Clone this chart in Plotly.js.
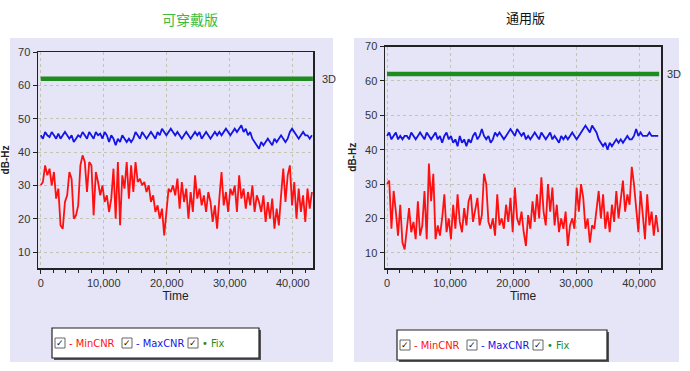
<!DOCTYPE html>
<html>
<head>
<meta charset="utf-8">
<script src="https://cdn.plot.ly/plotly-3.0.1.min.js"></script>
<style>html,body{margin:0;padding:0;background:#fff;}#chart{width:690px;height:371px;}</style>
</head>
<body>
<div id="chart"></div>
<script>
// ---------- DATA ----------
const panelTitles = ["可穿戴版", "通用版"];
const seriesNames = ["MinCNR", "MaxCNR", "Fix"];
const fixLabel = "3D";
const sampleStep = 350; // seconds between samples

const wearMin = [30,31,36,33,35,30,34,26,29,18,17,25,27,34,32,20,21,24,36,39,
  37,28,37,36,21,34,31,27,30,25,27,22,26,35,20,37,18,33,29,37,
  26,36,28,37,31,32,30,31,28,30,25,27,22,24,20,23,15,22,29,28,
  30,27,32,23,31,25,29,20,28,22,33,26,29,24,27,22,28,25,19,24,
  17,26,34,24,28,22,29,27,30,22,33,26,29,23,28,24,30,22,27,25,
  22,27,19,25,20,26,17,23,18,27,35,25,33,36,24,31,20,29,22,27,
  19,29,23,28];
const wearMax = [45,44,46,45,44.5,46,45,44,45.5,44,45,
  46,45,44,45,43,44,45,44.5,46,45,
  44,46,45,44,46,45,45.5,44,46,45,
  43,45,44,42,44,43,45,44,43,44,
  43,44,46,45,44,46,45,44,45,46,
  45,44,46,45,47,46,45,46,47,46,
  45,46,45,44,45,46,45,44,45,46,
  45,46,44,45,46,45,44,45,46,45,
  46,45,46,47,46,45,46,47,46,47,
  48,46,47,45,46,44,43,42,41,43,
  42,43,44,43,42,44,43,44,45,44,
  43,44,46,47,46,45,44,45,46,45,
  45,44,45];
const genMin = [30,31,17,28,22,15,24,13,11,17,23,16,19,14,25,15,18,28,14,36,
  25,33,14,18,15,20,27,16,20,14,24,17,27,19,16,23,18,25,27,19,
  22,26,18,21,33,30,19,17,20,15,27,18,20,17,24,19,26,16,29,20,
  18,22,16,12,21,17,25,19,27,20,32,22,18,30,22,29,18,24,16,20,
  17,22,12,18,20,17,29,22,30,26,17,20,13,18,17,22,28,20,27,17,
  22,16,24,19,28,20,25,31,22,27,24,35,30,24,16,28,22,14,27,18,
  22,15,21,16];
const genMax = [44,45,43,44,45,43,44,43,44,44,43,
  45,44,43,44,45,44,43,45,44,43,
  44,45,43,44,42,44,45,43,44,42,
  43,41,44,42,43,41,43,42,44,45,
  43,44,46,44,43,44,42,43,45,44,
  45,44,43,44,45,46,45,44,46,45,
  44,45,43,44,43,44,45,44,43,45,
  44,43,44,45,43,44,43,42,44,43,
  44,43,44,45,44,43,44,45,46,47,
  46,45,47,46,45,43,42,41,42,40,
  42,41,42,43,42,43,42,43,44,43,
  43,44,46,44,45,44,44,44,45,44,
  44,44,44];
const fixTime = [0, 43200];
const fixLevel = [62, 62];
const yTickVals = [10,20,30,40,50,60,70];
const xTickVals = [0,10000,20000,30000,40000];

// ---------- STYLE / LAYOUT ----------
const W = 690, H = 371;
const px = v => v / W;
const py = v => 1 - v / H;
const RED = "#ff1010", BLUE = "#1414e6", GREEN = "#1e8c1e";
const LAV = "#e5e5f7";
const FONT = "Liberation Sans, Arial, sans-serif";
const LFONT = "Liberation Sans Narrow, DejaVu Sans Condensed, Liberation Sans, sans-serif";
const tfont = {family: FONT, size: 11, color: "#333"};

const timesOf = arr => arr.map((_, i) => i * sampleStep);

const traces = [];
function addPanel(minArr, maxArr, xa, ya) {
  traces.push({x: timesOf(minArr), y: minArr, xaxis: xa, yaxis: ya, type: "scatter", mode: "lines",
    line: {color: RED, width: 1.8}, name: seriesNames[0], showlegend: false});
  traces.push({x: timesOf(maxArr), y: maxArr, xaxis: xa, yaxis: ya, type: "scatter", mode: "lines",
    line: {color: BLUE, width: 1.8}, name: seriesNames[1], showlegend: false});
  traces.push({x: fixTime, y: fixLevel, xaxis: xa, yaxis: ya, type: "scatter", mode: "lines",
    line: {color: GREEN, width: 4.5}, name: seriesNames[2], showlegend: false});
}
addPanel(wearMin, wearMax, "x", "y");
addPanel(genMin, genMax, "x2", "y2");

function xAxis(domain, range, anchor) {
  return {domain, range, anchor, tickvals: xTickVals, tickformat: ",", ticks: "outside", ticklen: 4,
    tickcolor: "#222", tickfont: tfont, showline: true, linecolor: "#222", linewidth: 1.5, mirror: true,
    showgrid: true, gridcolor: "#c4c4b4", griddash: "dot", gridwidth: 1, zeroline: false,
    minor: {dtick: 2000, tick0: 0, ticks: "outside", ticklen: 3, tickcolor: "#222", showgrid: false},
    title: {text: "Time", font: {family: FONT, size: 12, color: "#222"}, standoff: 4}};
}
function yAxis(domain, range, anchor) {
  return {domain, range, anchor, tickvals: yTickVals, ticks: "outside", ticklen: 4, tickcolor: "#222",
    tickfont: tfont, showline: true, linecolor: "#222", linewidth: 1.5, mirror: true,
    showgrid: true, gridcolor: "#c4c4b4", griddash: "dot", gridwidth: 1, zeroline: false,
    title: {text: "<b>dB-Hz</b>", font: {family: FONT, size: 10, color: "#222"}, standoff: 6}};
}

const shapes = [
  {type: "rect", xref: "paper", yref: "paper", x0: px(10), x1: px(333), y0: py(362), y1: py(38),
    fillcolor: LAV, line: {width: 0}, layer: "below"},
  {type: "rect", xref: "paper", yref: "paper", x0: px(354), x1: px(679), y0: py(362), y1: py(38),
    fillcolor: LAV, line: {width: 0}, layer: "below"}
];
const annotations = [
  {text: panelTitles[0], xref: "paper", yref: "paper", x: px(190), y: py(19), xanchor: "center", yanchor: "middle",
    showarrow: false, font: {family: "Noto Sans CJK SC", size: 14, color: "#3dbb3d"}},
  {text: panelTitles[1], xref: "paper", yref: "paper", x: px(525), y: py(18), xanchor: "center", yanchor: "middle",
    showarrow: false, font: {family: "Noto Sans CJK SC", size: 13, color: "#111"}},
  {text: fixLabel, xref: "paper", yref: "y", x: px(320), y: 62, xanchor: "left", yanchor: "middle", showarrow: false,
    font: {family: FONT, size: 11, color: "#333"}},
  {text: fixLabel, xref: "paper", yref: "y2", x: px(665), y: 62, xanchor: "left", yanchor: "middle", showarrow: false,
    font: {family: FONT, size: 11, color: "#333"}}
];

function legendBox(x0, x1, y0, y1, items) {
  shapes.push({type: "rect", xref: "paper", yref: "paper", x0: px(x0 + 2), x1: px(x1 + 2), y0: py(y1 + 2), y1: py(y0 + 2),
    fillcolor: "#555", line: {width: 0}});
  shapes.push({type: "rect", xref: "paper", yref: "paper", x0: px(x0), x1: px(x1), y0: py(y1), y1: py(y0),
    fillcolor: "#fff", line: {color: "#222", width: 1.2}});
  const yc = (y0 + y1) / 2;
  items.forEach(it => {
    shapes.push({type: "rect", xref: "paper", yref: "paper", x0: px(it.cb), x1: px(it.cb + 10), y0: py(yc + 5), y1: py(yc - 5),
      fillcolor: "#fff", line: {color: "#666", width: 1}});
    annotations.push({text: "✓", xref: "paper", yref: "paper", x: px(it.cb + 5), y: py(yc), xanchor: "center", yanchor: "middle",
      showarrow: false, font: {family: "DejaVu Sans", size: 9, color: "#111"}});
    annotations.push({text: it.text, xref: "paper", yref: "paper", x: px(it.tx), y: py(yc), xanchor: "left", yanchor: "middle",
      showarrow: false, font: {family: LFONT, size: 11, color: it.color}});
  });
}
legendBox(52, 259, 328, 358, [
  {cb: 55, tx: 67, text: "- " + seriesNames[0], color: RED},
  {cb: 122, tx: 134, text: "- " + seriesNames[1], color: BLUE},
  {cb: 188, tx: 200, text: "• " + seriesNames[2], color: GREEN}
]);
legendBox(397, 607, 330, 360, [
  {cb: 400, tx: 412, text: "- " + seriesNames[0], color: RED},
  {cb: 467, tx: 479, text: "- " + seriesNames[1], color: BLUE},
  {cb: 533, tx: 545, text: "• " + seriesNames[2], color: GREEN}
]);

const layout = {
  width: W, height: H, margin: {l: 0, r: 0, t: 0, b: 0},
  paper_bgcolor: "#fff", plot_bgcolor: "rgba(0,0,0,0)", showlegend: false,
  xaxis: xAxis([px(38), px(313)], [-430, 43220], "y"),
  yaxis: yAxis([py(268), py(52)], [5.2, 70], "x"),
  xaxis2: xAxis([px(385), px(661)], [-320, 43490], "y2"),
  yaxis2: yAxis([py(268), py(46.5)], [5.6, 70], "x2"),
  shapes, annotations
};
Plotly.newPlot("chart", traces, layout, {staticPlot: true, displayModeBar: false});
</script>
</body>
</html>
